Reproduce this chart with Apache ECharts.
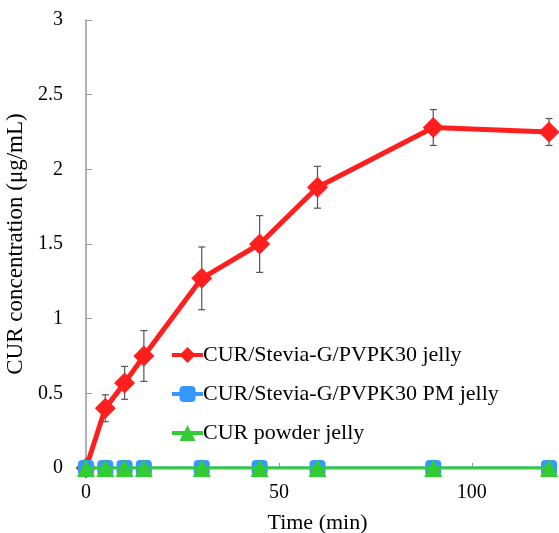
<!DOCTYPE html>
<html>
<head>
<meta charset="utf-8">
<script src="https://cdn.jsdelivr.net/npm/echarts@6/dist/echarts.min.js"></script>
<style>html,body{margin:0;padding:0;background:#fff}#c{width:559px;height:533px}</style>
</head>
<body>
<div id="c"></div>
<script>
var times = [0, 5, 10, 15, 30, 45, 60, 90, 120];
var seriesNames = ['CUR/Stevia-G/PVPK30 jelly', 'CUR/Stevia-G/PVPK30 PM jelly', 'CUR powder jelly'];
var dispersionJelly = [0, 0.40, 0.57, 0.75, 1.27, 1.50, 1.88, 2.28, 2.25];
var dispersionErr = [0, 0.09, 0.11, 0.17, 0.21, 0.19, 0.14, 0.12, 0.09];
var pmJelly = [0, 0, 0, 0, 0, 0, 0, 0, 0];
var powderJelly = [0, 0, 0, 0, 0, 0, 0, 0, 0];
var yTicks = [0, 0.5, 1, 1.5, 2, 2.5, 3];
var xTicks = [0, 50, 100];

var font = 'Liberation Serif, Times New Roman, serif';
var colors = ['#ff1f1f', '#3399ff', '#33cc33'];
function pairs(ys){ return times.map(function(t,i){ return [t, ys[i]]; }); }
var errData = times.map(function(t,i){ return [t, dispersionJelly[i]-dispersionErr[i], dispersionJelly[i]+dispersionErr[i]]; }).filter(function(d,i){ return dispersionErr[i] > 0; });

var chart = echarts.init(document.getElementById('c'), null, {renderer:'canvas'});
chart.setOption({
  animation: false,
  backgroundColor: '#fff',
  grid: {left: 86, top: 20, right: 10, bottom: 65, containLabel: false, outerBoundsMode: 'none'},
  xAxis: {
    type: 'value', min: 0, max: 120, interval: 50,
    name: 'Time (min)', nameLocation: 'middle', nameGap: 44,
    nameTextStyle: {fontFamily: font, fontSize: 22, color: '#000'},
    axisLine: {show: true, lineStyle: {color: '#999', width: 1.5}},
    axisTick: {show: true, inside: true, length: 5, lineStyle: {color: '#999'}},
    axisLabel: {fontFamily: font, fontSize: 20, color: '#000', margin: 15,
      formatter: function(v){ return xTicks.indexOf(v) >= 0 ? String(v) : ''; }},
    splitLine: {show: false}
  },
  yAxis: {
    type: 'value', min: 0, max: 3, interval: 0.5,
    name: 'CUR concentration (μg/mL)', nameLocation: 'middle', nameGap: 50,
    nameTextStyle: {fontFamily: font, fontSize: 23, color: '#000'},
    axisLine: {show: true, lineStyle: {color: '#999', width: 1.5}},
    axisTick: {show: true, inside: true, length: 6, lineStyle: {color: '#999'}},
    axisLabel: {fontFamily: font, fontSize: 20, color: '#000', margin: 23,
      formatter: function(v){ return yTicks.indexOf(v) >= 0 ? String(v) : ''; }},
    splitLine: {show: false}
  },
  legend: {
    orient: 'vertical', left: 165, top: 339, itemGap: 17,
    itemWidth: 31, itemHeight: 20,
    lineStyle: {width: 4},
    textStyle: {fontFamily: font, fontSize: 22, color: '#000', padding: [0,0,0,-5]},
    data: seriesNames
  },
  series: [
    {
      name: 'err', type: 'custom', z: 1,
      renderItem: function(params, api){
        var x = api.value(0);
        var lo = api.coord([x, api.value(1)]);
        var hi = api.coord([x, api.value(2)]);
        var w = 3.5;
        var st = {stroke: '#555', lineWidth: 1.2};
        return {type: 'group', children: [
          {type: 'line', shape: {x1: lo[0], y1: lo[1], x2: hi[0], y2: hi[1]}, style: st},
          {type: 'line', shape: {x1: lo[0]-w, y1: lo[1], x2: lo[0]+w, y2: lo[1]}, style: st},
          {type: 'line', shape: {x1: hi[0]-w, y1: hi[1], x2: hi[0]+w, y2: hi[1]}, style: st}
        ]};
      },
      data: errData
    },
    {
      name: seriesNames[0], type: 'line', z: 3, data: pairs(dispersionJelly),
      symbol: 'diamond', symbolSize: 21,
      itemStyle: {color: colors[0]}, lineStyle: {color: colors[0], width: 5}
    },
    {
      name: seriesNames[1], type: 'line', z: 4, data: pairs(pmJelly),
      symbol: 'roundRect', symbolSize: 16,
      itemStyle: {color: colors[1]}, lineStyle: {color: colors[1], width: 3}
    },
    {
      name: seriesNames[2], type: 'line', z: 5, data: pairs(powderJelly),
      symbol: 'triangle', symbolSize: 18,
      itemStyle: {color: colors[2]}, lineStyle: {color: colors[2], width: 3}
    }
  ]
});
</script>
</body>
</html>
